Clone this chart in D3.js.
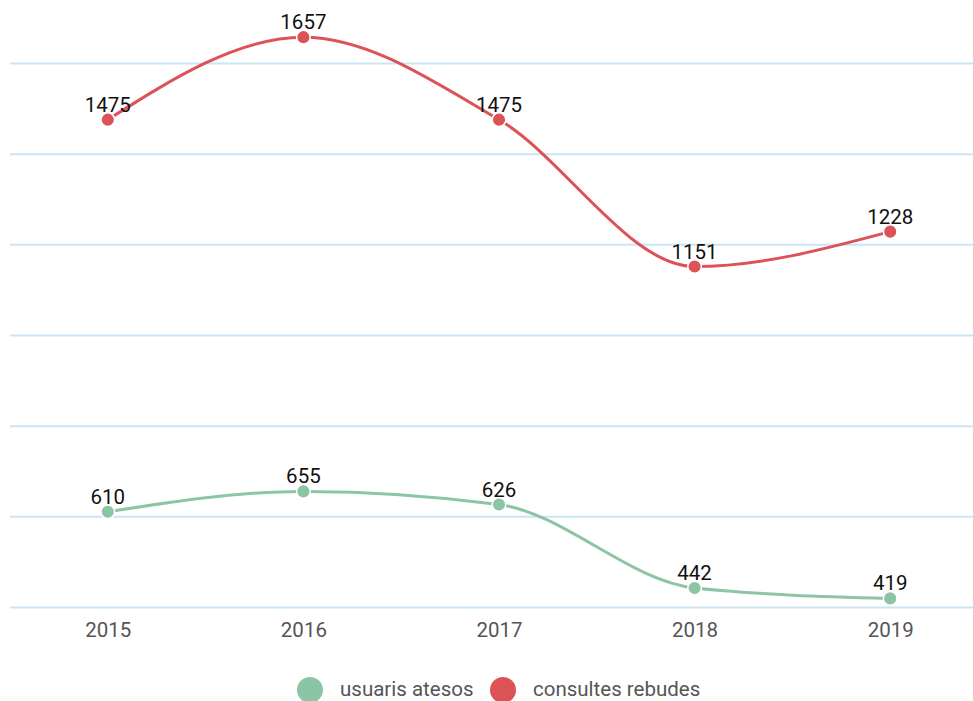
<!DOCTYPE html>
<html>
<head>
<meta charset="utf-8">
<script src="https://cdn.jsdelivr.net/npm/d3@7"></script>
<style>
  html, body { margin: 0; padding: 0; background: #fff; }
  svg { display: block; font-family: Roboto, "Noto Sans", sans-serif; }
</style>
</head>
<body>
<svg id="chart" width="973" height="701"></svg>
<script>
const years = ["2015", "2016", "2017", "2018", "2019"];
const usuarisAtesos = [610, 655, 626, 442, 419];
const consultesRebudes = [1475, 1657, 1475, 1151, 1228];
const gridValues = [400, 600, 800, 1000, 1200, 1400, 1600];
const seriesNames = ["usuaris atesos", "consultes rebudes"];
const seriesColors = ["#8cc5a5", "#dc5357"];

const svg = d3.select("#chart");

const x = d3.scalePoint().domain(years).range([10, 988]).padding(0.5);
const y = d3.scaleLinear().domain([400, 1600]).range([607, 63]);

// horizontal grid
const grid = d3.axisLeft(y).tickValues(gridValues).tickSize(-978).tickFormat("");
svg.append("g")
  .attr("transform", "translate(10,0)")
  .call(grid)
  .call(g => g.select(".domain").remove())
  .call(g => g.selectAll("line").attr("stroke", "#cae5f6").attr("stroke-width", 2));

// year labels
const xAxis = d3.axisBottom(x).tickSize(0).tickPadding(0);
svg.append("g")
  .attr("transform", "translate(0,637)")
  .call(xAxis)
  .call(g => g.select(".domain").remove())
  .call(g => g.selectAll("text")
    .attr("dy", 0)
    .attr("fill", "#555")
    .style("font-size", "20.5px")
    .style("font-family", "Roboto, sans-serif"));

const series = [usuarisAtesos, consultesRebudes];

const line = d3.line()
  .x((d, i) => x(years[i]))
  .y(d => y(d))
  .curve(d3.curveMonotoneX);

series.forEach((vals, si) => {
  const g = svg.append("g");
  g.append("path")
    .datum(vals)
    .attr("fill", "none")
    .attr("stroke", seriesColors[si])
    .attr("stroke-width", 3)
    .attr("d", line);
  g.selectAll("circle")
    .data(vals)
    .join("circle")
    .attr("cx", (d, i) => x(years[i]))
    .attr("cy", d => y(d))
    .attr("r", 6.8)
    .attr("fill", seriesColors[si])
    .attr("stroke", "#fff")
    .attr("stroke-width", 1.5);
  g.selectAll("text")
    .data(vals)
    .join("text")
    .attr("x", (d, i) => x(years[i]))
    .attr("y", d => y(d) - 8)
    .attr("text-anchor", "middle")
    .style("font-size", "20.5px")
    .attr("fill", "#111")
    .text(d => d);
});

// legend
const legendItems = [
  { cx: 310, tx: 340 },
  { cx: 503, tx: 533 }
];
const legend = svg.append("g");
seriesNames.forEach((name, i) => {
  legend.append("circle")
    .attr("cx", legendItems[i].cx)
    .attr("cy", 690)
    .attr("r", 13)
    .attr("fill", seriesColors[i]);
  legend.append("text")
    .attr("x", legendItems[i].tx)
    .attr("y", 696)
    .style("font-size", "20.5px")
    .attr("fill", "#555")
    .text(name);
});
</script>
</body>
</html>
